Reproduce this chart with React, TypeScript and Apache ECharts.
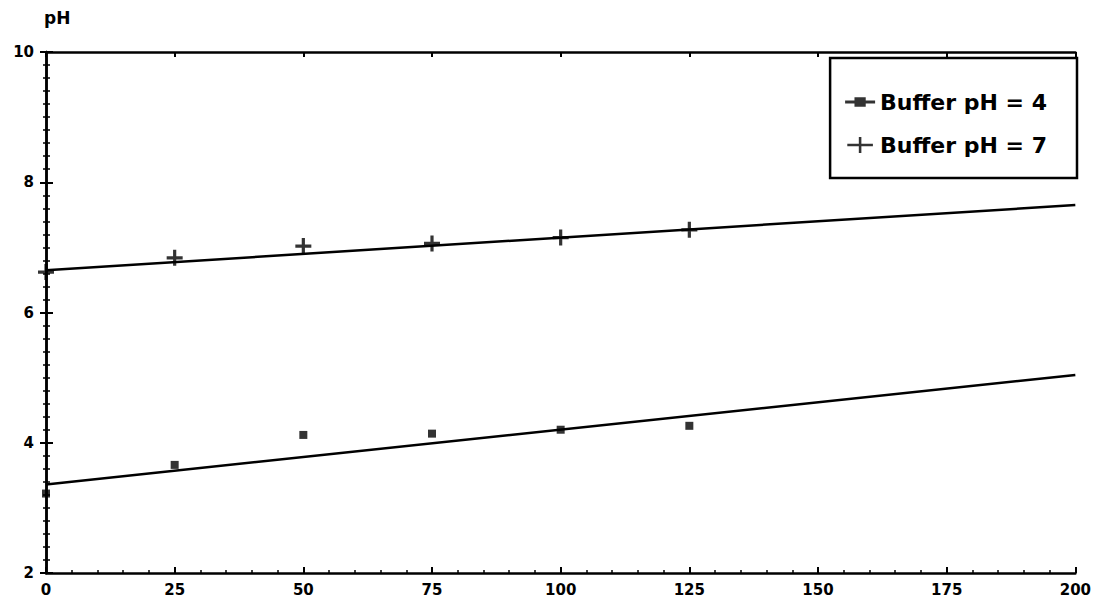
import React, { useEffect, useRef } from "react";
import * as echarts from "echarts";

const timeTicks = [0, 25, 50, 75, 100, 125, 150, 175, 200];
const sampleX = [0, 25, 50, 75, 100, 125];
const ph7Values = [6.62, 6.84, 7.02, 7.06, 7.15, 7.27];
const ph4Values = [3.22, 3.66, 4.12, 4.14, 4.2, 4.26];
const trendX = [0, 200];
const ph7Trend = [6.65, 7.65];
const ph4Trend = [3.36, 5.04];
const seriesNames = ["Buffer pH = 4", "Buffer pH = 7"];
const yTicks = [2, 4, 6, 8, 10];

const PLUS = "path://M4,0H6V4H10V6H6V10H4V6H0V4H4Z";
const ICON_SQ = "path://M0,4.2H16V5.8H0Z M5,2.5H11V7.5H5Z";
const ICON_PLUS = "path://M0,4.2H16V5.8H0Z M7.2,0H8.8V10H7.2Z";
const FONT = "DejaVu Sans";

export default function App() {
  const ref = useRef<HTMLDivElement>(null);
  useEffect(() => {
    if (!ref.current) return;
    const chart = echarts.init(ref.current, null, { renderer: "svg" });
    const axisCommon = {
      type: "value" as const,
      axisLine: { show: true, lineStyle: { color: "#000", width: 2.5 } },
      splitLine: { show: false },
    };
    chart.setOption({
      animation: false,
      backgroundColor: "#fff",
      textStyle: { fontFamily: FONT },
      grid: { left: 46, right: 17, top: 52, bottom: 29, containLabel: false },
      legend: {
        data: [
          { name: seriesNames[0], icon: ICON_SQ },
          { name: seriesNames[1], icon: ICON_PLUS },
        ],
        orient: "vertical",
        right: 17,
        top: 58,
        padding: [33, 30, 22, 15],
        itemGap: 21,
        itemWidth: 30,
        itemHeight: 16,
        borderColor: "#000",
        borderWidth: 2.5,
        backgroundColor: "#fff",
        textStyle: { fontSize: 22, fontWeight: "bold", color: "#000", fontFamily: FONT },
      },
      xAxis: [
        {
          ...axisCommon,
          min: 0,
          max: 200,
          interval: 25,
          position: "bottom",
          axisTick: { show: true, inside: true, length: 6, lineStyle: { color: "#000", width: 2 } },
          minorTick: { show: true, splitNumber: 5, length: 3, lineStyle: { color: "#000", width: 1.5 } },
          axisLabel: {
            color: "#000",
            fontSize: 15,
            fontWeight: "bold",
            margin: 9,
            formatter: (v: number) => (timeTicks.includes(v) ? String(v) : ""),
          },
        },
        {
          ...axisCommon,
          min: 0,
          max: 200,
          interval: 25,
          position: "top",
          axisTick: { show: true, inside: true, length: 5, lineStyle: { color: "#000", width: 2 } },
          axisLabel: { show: false },
        },
      ],
      yAxis: [
        {
          ...axisCommon,
          min: 2,
          max: 10,
          interval: 2,
          name: "pH",
          nameLocation: "end",
          nameGap: 26,
          nameTextStyle: { color: "#000", fontSize: 17, fontWeight: "bold", align: "left", padding: [0, 0, 0, -2] },
          axisTick: { show: true, inside: true, length: 7, lineStyle: { color: "#000", width: 2 } },
          minorTick: { show: true, splitNumber: 10, length: 4, lineStyle: { color: "#000", width: 1.5 } },
          axisLabel: {
            color: "#000",
            fontSize: 15,
            fontWeight: "bold",
            margin: 12,
            formatter: (v: number) => (yTicks.includes(v) ? String(v) : ""),
          },
        },
        {
          ...axisCommon,
          min: 2,
          max: 10,
          interval: 2,
          position: "right",
          axisTick: { show: true, inside: true, length: 6, lineStyle: { color: "#000", width: 2 } },
          minorTick: { show: true, splitNumber: 10, length: 3, lineStyle: { color: "#000", width: 1.5 } },
          axisLabel: { show: false },
        },
      ],
      series: [
        {
          name: seriesNames[0],
          type: "scatter",
          data: sampleX.map((x, i) => [x, ph4Values[i]]),
          symbol: "rect",
          symbolSize: 8,
          itemStyle: { color: "#000" },
          z: 5,
        },
        {
          name: seriesNames[1],
          type: "scatter",
          data: sampleX.map((x, i) => [x, ph7Values[i]]),
          symbol: PLUS,
          symbolSize: 16,
          itemStyle: { color: "#000" },
          z: 5,
        },
        {
          name: seriesNames[0] + " trend",
          type: "line",
          data: trendX.map((x, i) => [x, ph4Trend[i]]),
          showSymbol: false,
          lineStyle: { color: "#000", width: 2.5 },
        },
        {
          name: seriesNames[1] + " trend",
          type: "line",
          data: trendX.map((x, i) => [x, ph7Trend[i]]),
          showSymbol: false,
          lineStyle: { color: "#000", width: 2.5 },
        },
      ],
    });
    return () => chart.dispose();
  }, []);
  return (
    <div
      ref={ref}
      style={{ position: "fixed", left: 0, top: 0, width: 1094, height: 602, background: "#fff" }}
    />
  );
}
